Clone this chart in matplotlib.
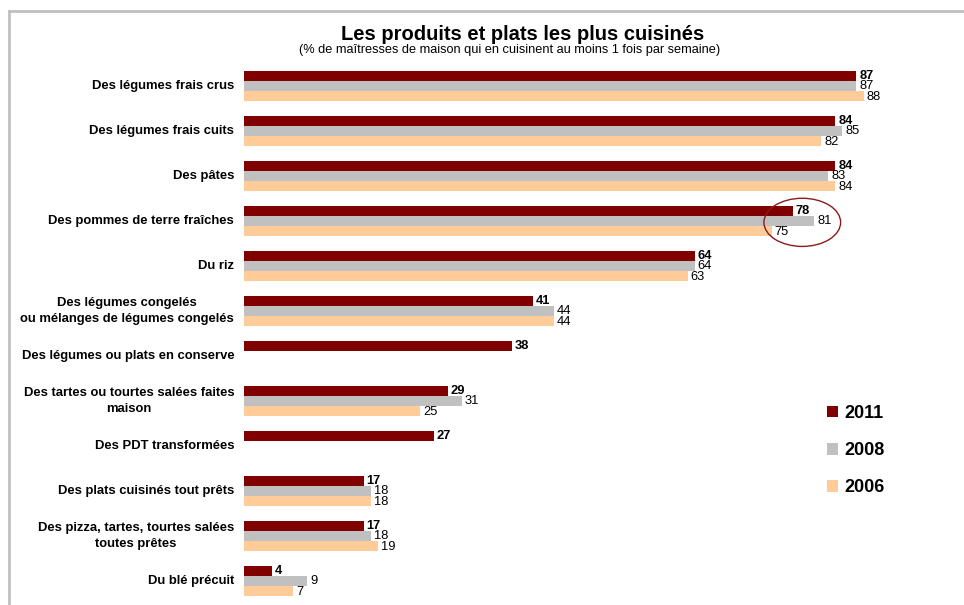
import matplotlib
matplotlib.use("Agg")
import matplotlib.pyplot as plt
from matplotlib.patches import Ellipse, Patch
from matplotlib.lines import Line2D
import numpy as np

plt.rcParams['font.family'] = ['Liberation Sans', 'DejaVu Sans']

categories = [
    "Des légumes frais crus",
    "Des légumes frais cuits",
    "Des pâtes",
    "Des pommes de terre fraîches",
    "Du riz",
    "Des légumes congelés\nou mélanges de légumes congelés",
    "Des légumes ou plats en conserve",
    "Des tartes ou tourtes salées faites\nmaison",
    "Des PDT transformées",
    "Des plats cuisinés tout prêts",
    "Des pizza, tartes, tourtes salées\ntoutes prêtes",
    "Du blé précuit",
]
v2011 = [87, 84, 84, 78, 64, 41, 38, 29, 27, 17, 17, 4]
v2008 = [87, 85, 83, 81, 64, 44, None, 31, None, 18, 18, 9]
v2006 = [88, 82, 84, 75, 63, 44, None, 25, None, 18, 19, 7]
years = ["2011", "2008", "2006"]
colors = ["#800000", "#C0C0C0", "#FFCC99"]

W, H = 964, 605
fig = plt.figure(figsize=(W / 100, H / 100), dpi=100)

# axes: x from pixel 244, 7.04 px per unit; y group centers at 86 + 45*i
x0 = 244
ppu = 7.04
xmax = (W - x0) / ppu
ax = fig.add_axes([x0 / W, 0, (W - x0) / W, 1])
ax.set_xlim(0, xmax)
top_i = -86 / 45
bot_i = (H - 86) / 45
ax.set_ylim(bot_i, top_i)
ax.axis("off")

bh = 10.3 / 45
offsets = [-bh, 0, bh]
series = [v2011, v2008, v2006]
n = len(categories)

for s, (vals, col, off) in enumerate(zip(series, colors, offsets)):
    for i, v in enumerate(vals):
        if v is None:
            continue
        ax.barh(i + off, v, height=bh, color=col, edgecolor="none")
        ax.text(v + 0.4, i + off + 0.01, str(v), va="center", ha="left",
                fontsize=9.3, color="#000000",
                fontweight="bold" if s == 0 else "normal")

for i, c in enumerate(categories):
    ax.text(-1.4, i, c, ha="right", va="center", fontsize=9.4,
            fontweight="bold", multialignment="center", color="#000000",
            linespacing=1.45)

# highlight ellipse around "Des pommes de terre fraîches"
ell = Ellipse((79.3, 3.03), 10.9, 1.07, fill=False, edgecolor="#8B1A1A", lw=1.0)
ax.add_patch(ell)

# title
fig.text(523 / W, 1 - 40 / H, "Les produits et plats les plus cuisinés",
         ha="center", va="baseline", fontsize=14.5, fontweight="bold")
fig.text(510 / W, 1 - 52.5 / H,
         "(% de maîtresses de maison qui en cuisinent au moins 1 fois par semaine)",
         ha="center", va="baseline", fontsize=9.2)

# legend
handles = [Patch(facecolor=c, edgecolor="none") for c in colors]
fig.legend(handles, years, loc="upper left", bbox_to_anchor=(818 / W, 1 - 396 / H),
           frameon=False, prop={"size": 13, "weight": "bold"},
           handlelength=0.6, handleheight=0.6, handletextpad=0.35,
           labelspacing=1.12, borderpad=0)

# outer frame (partially visible)
fig.add_artist(Line2D([8.5 / W, 8.5 / W], [0, 1 - 10.5 / H], transform=fig.transFigure,
                      color="#C0C0C0", lw=2))
fig.add_artist(Line2D([8.5 / W, 1], [1 - 10.5 / H, 1 - 10.5 / H], transform=fig.transFigure,
                      color="#C0C0C0", lw=2))

fig.savefig("out.png", dpi=100)
